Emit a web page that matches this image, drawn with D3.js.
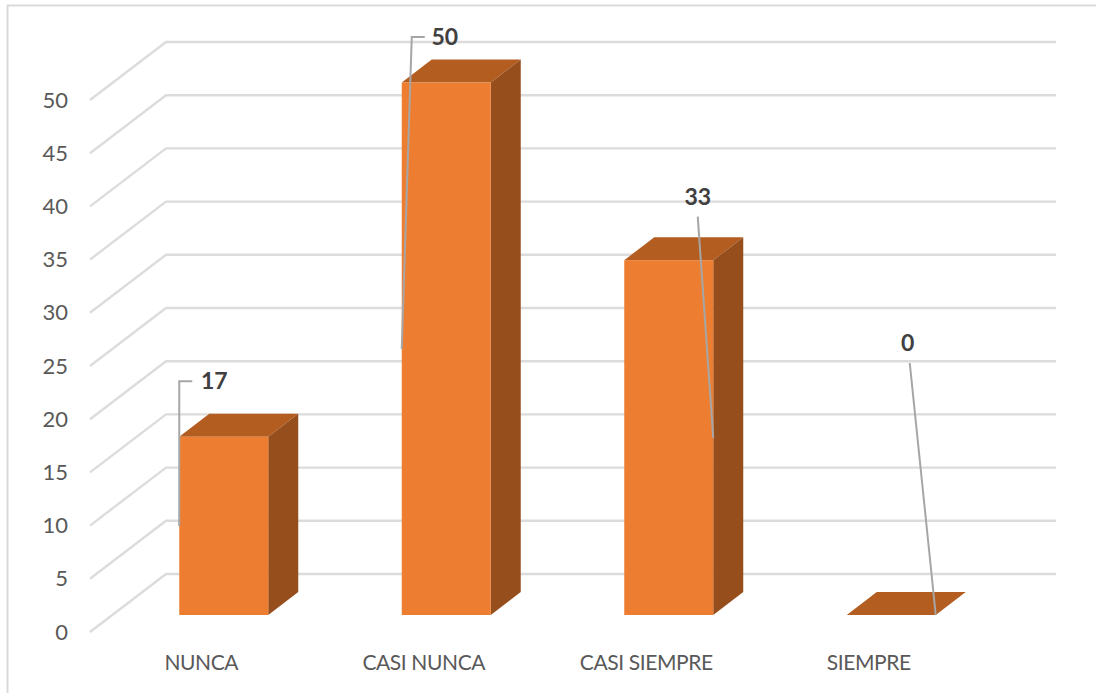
<!DOCTYPE html>
<html><head><meta charset="utf-8">
<script src="https://cdn.jsdelivr.net/npm/d3@7"></script>
<style>html,body{margin:0;padding:0;background:#fff}svg{display:block}</style></head>
<body><svg id="c" width="1096" height="693"></svg>
<script>
const categories = ["NUNCA", "CASI NUNCA", "CASI SIEMPRE", "SIEMPRE"];
const values = [16.7, 50, 33.3, 0];
const yTicks = [0, 5, 10, 15, 20, 25, 30, 35, 40, 45, 50];

const svg = d3.select("#c");
const font = "Lato, 'Open Sans', sans-serif";
// 3-D projection: the wall sits depthX/depthY behind the axis, bars stand part-way into the floor
const depthX = 76, depthY = 58, barInX = 22.5, barInY = 17, barDX = 30, barDY = 23;
const y = d3.scaleLinear().domain([0, 50]).range([632, 100]);
const x = d3.scaleBand().domain(categories).range([90, 980]).paddingInner(0.6).paddingOuter(0.3);

// frame: only the top and left edges fall inside the picture
svg.append("path").attr("d", "M7.5,693V5.5H1096").attr("fill", "none")
  .attr("stroke", "#DADADA").attr("stroke-width", 2);

// gridlines
const grid = svg.append("g").attr("stroke", "#DCDCDC").attr("stroke-width", 2.4).attr("fill", "none");
yTicks.forEach(v => {
  const p = d3.path();
  p.moveTo(90, y(v));
  p.lineTo(90 + depthX, y(v) - depthY);
  p.lineTo(90 + depthX + 890, y(v) - depthY);
  grid.append("path").attr("d", p.toString());
});

// axes
const ax = svg.append("g").attr("transform", "translate(77,0)")
  .call(d3.axisLeft(y).tickValues(yTicks).tickSize(0).tickPadding(9));
ax.select(".domain").remove();
ax.selectAll("text").attr("font-family", font).attr("font-size", 22).attr("fill", "#595959");
const bx = svg.append("g").attr("transform", "translate(0,655)")
  .call(d3.axisBottom(x).tickSize(0).tickPadding(0));
bx.select(".domain").remove();
bx.selectAll("text").attr("font-family", font).attr("font-size", 21)
  .attr("letter-spacing", "-0.4").attr("fill", "#595959");

// bars
const front = v => y(v) - barInY;
categories.forEach((c, i) => {
  const v = values[i], l = x(c) + barInX, w = x.bandwidth(), t = front(v) - (v > 0 ? 0.5 : 0), b = front(0);
  const g = svg.append("g");
  const poly = pts => d3.line()(pts);
  g.append("path").attr("fill", "#B35D21")
    .attr("d", poly([[l, t], [l + barDX, t - barDY], [l + w + barDX, t - barDY], [l + w, t]]) + "Z");
  if (v > 0) {
    g.append("path").attr("fill", "#964F1C")
      .attr("d", poly([[l + w, t], [l + w + barDX, t - barDY], [l + w + barDX, b - barDY], [l + w, b]]) + "Z");
    g.append("rect").attr("x", l).attr("y", t).attr("width", w).attr("height", b - t).attr("fill", "#ED7D31");
  }
});

// data labels with leader lines
const labelShift = [[35, 56], [43, 46], [73.5, 64], [61, 272]];
const leaderFromRight = [false, false, true, true];
categories.forEach((c, i) => {
  const v = values[i], l = x(c) + barInX, w = x.bandwidth();
  const [sx, sy] = labelShift[i];
  const lx = l + sx, ly = front(v) - sy;
  const startX = leaderFromRight[i] ? l + w : l;
  const startY = (front(v) + front(0)) / 2;
  const pts = leaderFromRight[i]
    ? [[startX, startY], [lx + (i === 3 ? 2 : 0), ly + 20]]
    : [[startX, startY], [l + (i === 1 ? 10 : 0), ly], [l + (i === 1 ? 23 : 13), ly]];
  svg.append("path").attr("d", d3.line()(pts)).attr("fill", "none")
    .attr("stroke", "#A6A6A6").attr("stroke-width", 2);
  svg.append("text").attr("x", lx).attr("y", ly).attr("dy", "0.35em").attr("text-anchor", "middle")
    .attr("font-family", font).attr("font-size", 23).attr("font-weight", 700).attr("fill", "#404040")
    .text(d3.format(".0f")(v));
});
</script></body></html>
